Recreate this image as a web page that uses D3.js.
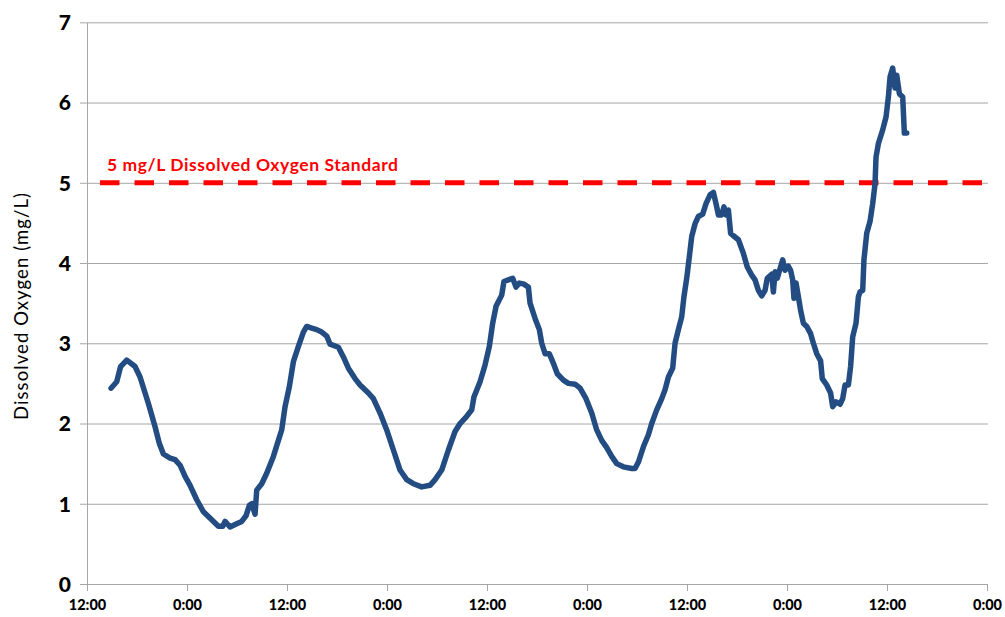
<!DOCTYPE html>
<html><head><meta charset="utf-8">
<script src="https://cdn.jsdelivr.net/npm/d3@7"></script>
<style>body{margin:0;background:#fff}svg{display:block}</style>
</head><body>
<script>
// hours since 12:00 on the first day
const hours = [2.88,3.56,4.04,4.76,5.76,6.36,7.36,8.16,8.68,9.16,9.96,10.56,11.16,11.76,12.36,13.16,13.96,14.96,15.76,16.28,16.56,17.16,17.96,18.56,19.08,19.48,19.76,20.16,20.36,20.96,21.56,22.36,22.96,23.36,23.76,24.28,24.76,25.36,25.96,26.36,26.96,27.56,28.16,28.76,29.16,30.16,30.76,31.36,32.16,32.76,33.76,34.36,35.16,35.96,36.76,37.56,38.36,39.16,40.16,41.16,41.76,42.56,43.36,44.16,44.76,45.56,46.16,46.44,47.16,47.76,48.28,48.68,49.08,49.76,50.04,50.56,51.08,51.48,51.88,52.36,52.96,53.16,53.76,54.28,54.56,54.96,55.48,55.96,56.44,57.16,57.76,58.56,59.16,59.88,60.56,61.16,61.76,62.36,62.96,63.56,64.36,65.36,65.76,66.16,66.76,67.36,67.76,68.36,68.96,69.36,69.76,70.28,70.56,70.96,71.36,71.64,71.96,72.28,72.56,72.96,73.36,73.88,74.28,74.76,75.16,75.48,75.76,76.16,76.44,76.68,76.96,77.24,77.56,78.16,78.76,79.24,79.76,80.16,80.56,80.96,81.36,81.64,82.16,82.36,82.56,82.84,83.16,83.48,83.76,84.16,84.44,84.68,84.84,85.08,85.36,85.64,85.96,86.36,86.84,87.16,87.56,88.04,88.24,88.76,89.24,89.48,89.88,90.36,90.68,90.96,91.36,91.64,91.88,92.28,92.56,92.76,93.08,93.24,93.56,93.96,94.28,94.56,94.68,94.96,95.48,95.88,96.16,96.36,96.68,96.96,97.16,97.48,97.88,98.08,98.36];
const dissolvedOxygen = [2.44,2.52,2.71,2.79,2.71,2.58,2.25,1.96,1.75,1.62,1.57,1.55,1.48,1.34,1.23,1.05,0.90,0.80,0.72,0.72,0.78,0.71,0.75,0.78,0.85,0.98,1.00,0.87,1.17,1.25,1.38,1.59,1.79,1.92,2.21,2.46,2.77,2.96,3.14,3.21,3.19,3.17,3.14,3.09,2.99,2.95,2.83,2.69,2.56,2.48,2.38,2.31,2.13,1.92,1.67,1.42,1.30,1.25,1.21,1.23,1.30,1.42,1.67,1.90,2.00,2.09,2.17,2.33,2.52,2.73,2.96,3.25,3.46,3.60,3.77,3.79,3.81,3.70,3.75,3.74,3.70,3.50,3.31,3.17,3.00,2.87,2.87,2.75,2.62,2.54,2.50,2.49,2.44,2.31,2.13,1.92,1.79,1.70,1.59,1.50,1.46,1.44,1.44,1.52,1.71,1.86,2.00,2.17,2.31,2.42,2.58,2.69,3.00,3.17,3.33,3.58,3.81,4.08,4.33,4.49,4.58,4.61,4.74,4.85,4.88,4.74,4.60,4.60,4.70,4.60,4.66,4.37,4.34,4.29,4.12,3.95,3.85,3.79,3.66,3.59,3.66,3.81,3.86,3.64,3.89,3.81,3.93,4.04,3.91,3.96,3.91,3.79,3.56,3.75,3.58,3.41,3.25,3.21,3.12,3.00,2.87,2.78,2.56,2.48,2.38,2.21,2.27,2.24,2.31,2.48,2.48,2.71,3.08,3.25,3.58,3.64,3.66,4.04,4.37,4.52,4.74,4.99,5.32,5.49,5.66,5.82,6.07,6.32,6.43,6.18,6.34,6.11,6.07,5.62,5.62];
const yTicks = [0,1,2,3,4,5,6,7];
const standardValue = 5;
const standardLabel = "5 mg/L Dissolved Oxygen Standard";
const yTitle = "Dissolved Oxygen (mg/L)";
const totalHours = 108;

const start = new Date(2012, 7, 6, 12, 0);
const data = hours.map((h, i) => ({t: d3.timeMinute.offset(start, Math.round(h * 60)), v: dissolvedOxygen[i]}));

const W = 1005, H = 617;
const m = {left: 87, right: 988, top: 22.3, bottom: 584};
const FONT = "Lato, 'Open Sans', sans-serif";
const x = d3.scaleTime().domain([start, d3.timeHour.offset(start, totalHours)]).range([m.left, m.right - 1]);
const y = d3.scaleLinear().domain([0, 7]).range([m.bottom, m.top]);

const svg = d3.select("body").append("svg").attr("width", W).attr("height", H);

// gridlines + y axis
const yAxis = d3.axisLeft(y).tickValues(yTicks).tickSize(-(m.right - m.left)).tickSizeOuter(0).tickPadding(16).tickFormat(d3.format("d"));
const gy = svg.append("g").attr("transform", `translate(${m.left},0)`).call(yAxis);
gy.select(".domain").attr("stroke", "#a6a6a6");
gy.selectAll(".tick line").attr("stroke", "#a6a6a6").attr("x1", -7);
gy.selectAll(".tick text").attr("font-family", FONT).attr("font-weight", 900).attr("font-size", 21).attr("fill", "#000").attr("dy", "0.35em");

// x axis
const xAxis = d3.axisBottom(x).ticks(d3.timeHour.every(12)).tickFormat(d3.timeFormat("%-H:%M")).tickSize(7).tickSizeOuter(0).tickPadding(9);
const gx = svg.append("g").attr("transform", `translate(0,${m.bottom})`).call(xAxis);
gx.select(".domain").attr("stroke", "#a6a6a6");
gx.selectAll(".tick line").attr("stroke", "#a6a6a6");
gx.selectAll(".tick text").attr("font-family", FONT).attr("font-weight", 900).attr("font-size", 14.5).attr("fill", "#000");

// standard line
svg.append("line")
  .attr("x1", 100).attr("x2", m.right - 6)
  .attr("y1", y(standardValue)).attr("y2", y(standardValue))
  .attr("stroke", "#ff0000").attr("stroke-width", 5).attr("stroke-dasharray", "19.5 15");
svg.append("text").attr("x", 107).attr("y", 171)
  .attr("font-family", FONT).attr("font-weight", "bold").attr("font-size", 17.5)
  .attr("textLength", 291).attr("lengthAdjust", "spacing")
  .attr("fill", "#ff0000").text(standardLabel);

// data line
svg.append("path").datum(data)
  .attr("fill", "none").attr("stroke", "#224c82").attr("stroke-width", 5.5)
  .attr("stroke-linejoin", "round").attr("stroke-linecap", "round")
  .attr("d", d3.line().x(d => x(d.t)).y(d => y(d.v)));

// y title
svg.append("text").attr("transform", `translate(28,306.5) rotate(-90)`)
  .attr("text-anchor", "middle").attr("font-family", FONT).attr("font-size", 18.5)
  .attr("textLength", 227).attr("lengthAdjust", "spacing")
  .attr("fill", "#000").text(yTitle);
</script>
</body></html>
